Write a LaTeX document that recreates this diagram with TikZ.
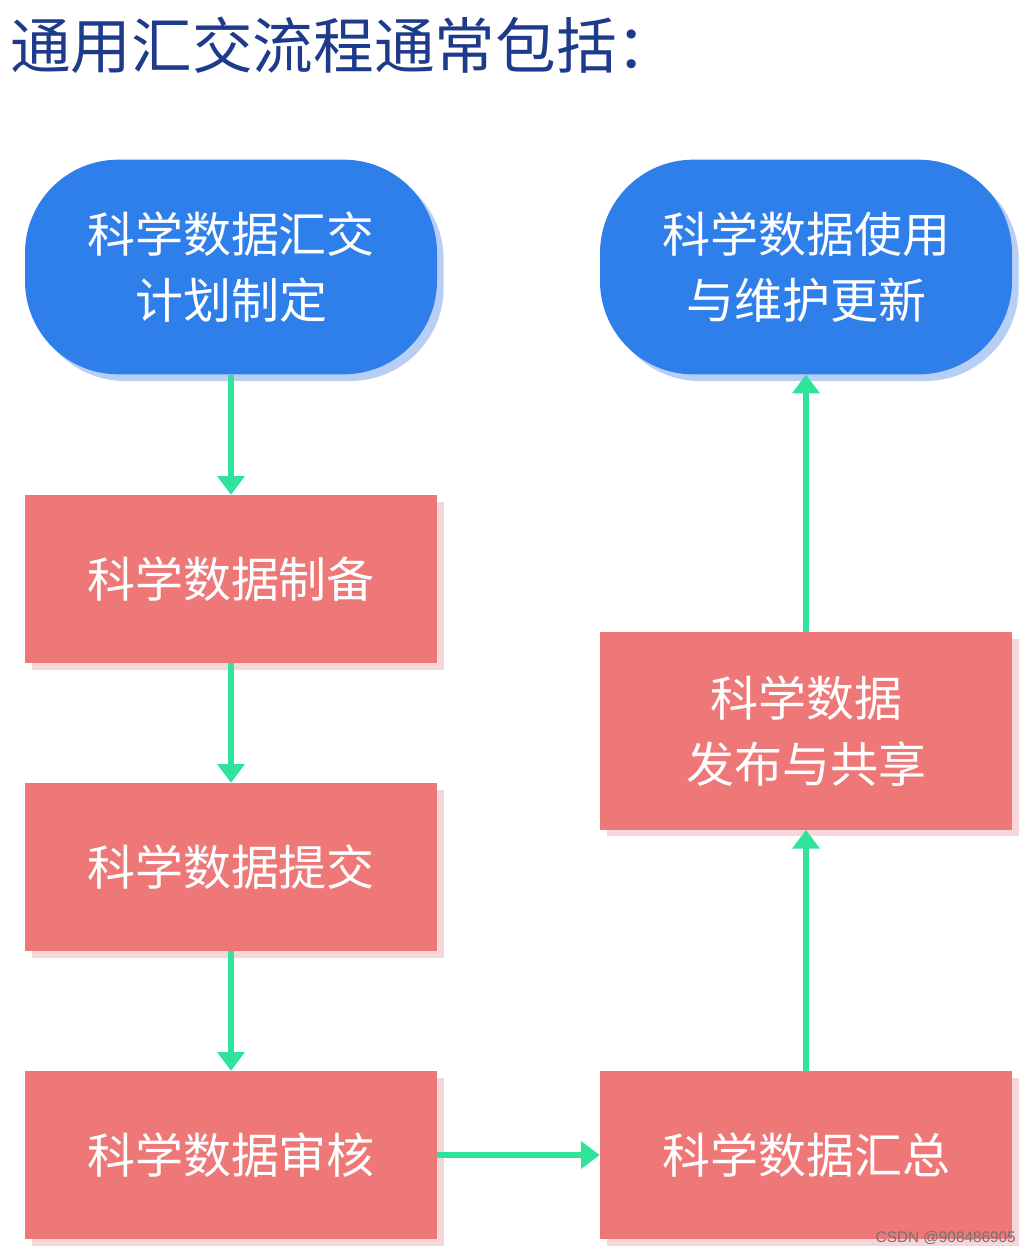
\documentclass[tikz,border=0pt]{standalone}
\usepackage{fontspec}
\usepackage{xcolor}
\usepackage{tikz}
\usetikzlibrary{arrows.meta,shadows}
\newfontfamily\cjk{Noto Sans CJK SC}
\newfontfamily\marksans{Liberation Sans}
\definecolor{ink}{HTML}{1E3A8A}
\definecolor{sky}{HTML}{2F7FEA}
\definecolor{skypale}{HTML}{B9CEF4}
\definecolor{rose}{HTML}{EE7778}
\definecolor{rosepale}{HTML}{F6D6D9}
\definecolor{mint}{HTML}{30E39B}

\begin{document}
\begin{tikzpicture}[x=0.75pt,y=-0.75pt,
  every node/.style={font=\cjk\fontsize{36}{49}\selectfont},
  endbox/.style={fill=sky,text=white,rounded corners=70pt,minimum width=309pt,minimum height=161pt,align=center,
    drop shadow={shadow xshift=5pt,shadow yshift=-5pt,fill=skypale,opacity=1}},
  workbox/.style={fill=rose,text=white,minimum width=309pt,minimum height=126pt,align=center,
    drop shadow={shadow xshift=5pt,shadow yshift=-5pt,fill=rosepale,opacity=1}},
  flow/.style={draw=mint,line width=3.8pt,-{Triangle[length=14pt,width=20pt]}}]
\useasboundingbox (0,0) rectangle (1032,1254);
% --- title
\node[anchor=west,text=ink,font=\cjk\fontsize{45.5}{52}\selectfont,inner sep=0pt] (title) at (10,45) {通用汇交流程通常包括：};
% --- left column
\node[endbox] (plan) at (231,267) {科学数据汇交\\计划制定};
\node[workbox] (prep) at (231,579) {科学数据制备};
\node[workbox] (submit) at (231,867) {科学数据提交};
\node[workbox] (review) at (231,1155) {科学数据审核};
% --- right column
\node[workbox] (collect) at (806,1155) {科学数据汇总};
\node[workbox,minimum height=148pt] (publish) at (806,731) {科学数据\\发布与共享};
\node[endbox] (use) at (806,267) {科学数据使用\\与维护更新};
% --- arrows
\draw[flow] (plan) -- (prep);
\draw[flow] (prep) -- (submit);
\draw[flow] (submit) -- (review);
\draw[flow] (review) -- (collect);
\draw[flow] (collect) -- (publish);
\draw[flow] (publish) -- (use);
% --- mark
\node[anchor=east,text=black!55,font=\marksans\fontsize{11.5}{12}\selectfont,inner sep=0pt] (mark) at (1016,1238) {CSDN @908486905};
\end{tikzpicture}
\end{document}
